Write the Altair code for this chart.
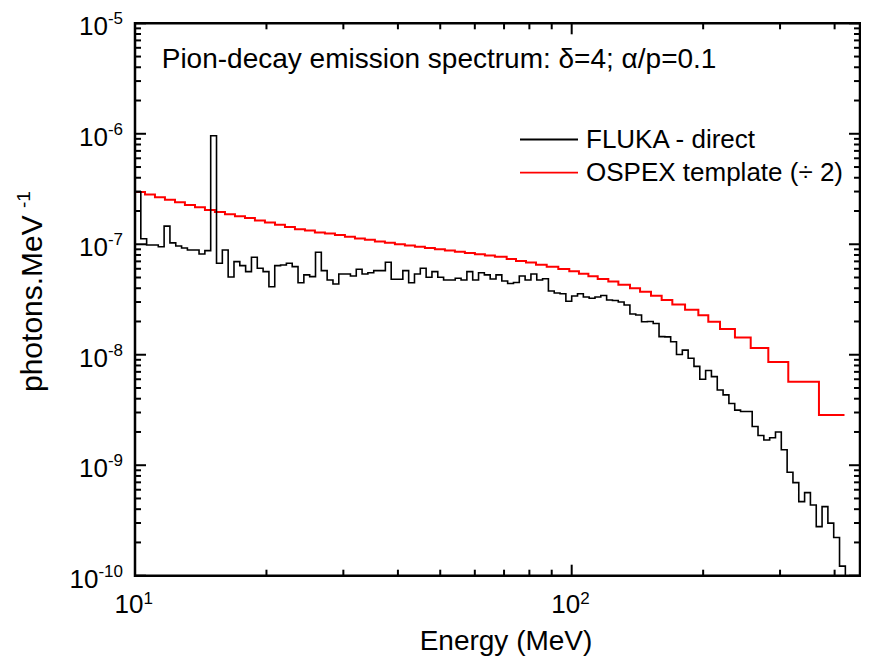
import altair as alt
import numpy as np
import pandas as pd

FONT = "Liberation Sans"
W, H = 725, 552.4
X_MIN, X_MAX = 10, 457.3
Y_MIN, Y_MAX = 1e-10, 1e-5

# FLUKA - direct: histogram with 75 log bins per decade starting at 10 MeV
fluka_e_min = 10.0
fluka_bins_per_decade = 75
fluka_flux = [
    2.99e-7, 1.12e-7, 9.85e-8, 9.85e-8, 9.5e-8, 1.46e-7, 1.03e-7, 9.65e-8, 9.26e-8, 8.88e-8,
    8.88e-8, 8.17e-8, 8.75e-8, 9.6e-7, 6.73e-8, 8.88e-8, 5.06e-8, 6.96e-8, 6.40e-8, 5.65e-8,
    7.63e-8, 6.06e-8, 5.65e-8, 4.13e-8, 6.40e-8, 6.50e-8, 6.73e-8, 6.27e-8, 4.49e-8, 5.28e-8,
    5.09e-8, 8.47e-8, 5.77e-8, 4.75e-8, 4.37e-8, 5.38e-8, 5.38e-8, 5.16e-8, 5.94e-8, 5.38e-8,
    5.53e-8, 5.77e-8, 5.77e-8, 6.87e-8, 4.83e-8, 4.83e-8, 5.77e-8, 4.49e-8, 5.38e-8, 6.06e-8,
    5.03e-8, 5.65e-8, 5.03e-8, 4.75e-8, 4.75e-8, 4.92e-8, 4.75e-8, 5.65e-8, 4.75e-8, 5.53e-8,
    5.28e-8, 4.85e-8, 5.28e-8, 4.65e-8, 4.42e-8, 4.51e-8, 5.16e-8, 4.75e-8, 5.38e-8, 4.75e-8,
    4.88e-8, 3.78e-8, 3.62e-8, 3.57e-8, 3.05e-8, 3.40e-8, 3.57e-8, 3.33e-8, 3.25e-8, 3.33e-8,
    3.44e-8, 3.13e-8, 3.10e-8, 3.00e-8, 2.82e-8, 2.34e-8, 2.29e-8, 1.99e-8, 2.00e-8, 1.92e-8,
    1.46e-8, 1.45e-8, 1.31e-8, 1.006e-8, 1.10e-8, 9.30e-9, 7.84e-9, 6.00e-9, 7.21e-9, 6.34e-9,
    4.80e-9, 4.33e-9, 3.62e-9, 3.15e-9, 3.06e-9, 3.06e-9, 2.24e-9, 1.86e-9, 1.69e-9, 1.77e-9,
    2.00e-9, 1.38e-9, 8.64e-10, 6.96e-10, 4.68e-10, 5.65e-10, 4.37e-10, 2.78e-10, 4.22e-10, 2.99e-10,
    2.22e-10, 1.22e-10,
]

# OSPEX template (/2): step edges (MeV) and values
ospex_edges = [
    10.00, 10.54, 11.11, 11.71, 12.35, 13.01, 13.72, 14.46, 15.24, 16.07,
    16.94, 17.86, 18.82, 19.84, 20.92, 22.05, 23.24, 24.50, 25.82, 27.22,
    28.70, 30.25, 31.89, 33.61, 35.43, 37.35, 39.37, 41.50, 43.75, 46.12,
    48.61, 51.25, 54.02, 56.94, 60.03, 63.28, 66.70, 70.98, 74.55, 78.58,
    82.85, 87.66, 93.18, 98.74, 103.9, 109.2, 114.7, 121.3, 127.9, 136.0,
    143.4, 151.9, 160.7, 170.0, 181.8, 195.0, 205.5, 218.6, 236.5, 257.0,
    282.0, 313.3, 368.3, 421.4,
]
ospex_flux = [
    2.97e-7, 2.82e-7, 2.67e-7, 2.53e-7, 2.40e-7, 2.27e-7, 2.16e-7, 2.04e-7, 1.96e-7, 1.87e-7,
    1.79e-7, 1.73e-7, 1.64e-7, 1.57e-7, 1.50e-7, 1.43e-7, 1.37e-7, 1.33e-7, 1.28e-7, 1.25e-7,
    1.21e-7, 1.17e-7, 1.13e-7, 1.10e-7, 1.06e-7, 1.03e-7, 1.00e-7, 9.75e-8, 9.49e-8, 9.26e-8,
    9.01e-8, 8.79e-8, 8.57e-8, 8.34e-8, 8.14e-8, 7.92e-8, 7.72e-8, 7.36e-8, 7.06e-8, 6.82e-8,
    6.54e-8, 6.27e-8, 5.98e-8, 5.70e-8, 5.42e-8, 5.13e-8, 4.85e-8, 4.59e-8, 4.31e-8, 4.00e-8,
    3.71e-8, 3.42e-8, 3.13e-8, 2.85e-8, 2.55e-8, 2.28e-8, 1.99e-8, 1.71e-8, 1.43e-8, 1.15e-8,
    8.61e-9, 5.71e-9, 2.85e-9,
]

x_major = [10, 100]
x_minor = [20, 30, 40, 50, 60, 70, 80, 90, 200, 300, 400]
x_label_exp = ["1", "2"]
y_major = [1e-10, 1e-9, 1e-8, 1e-7, 1e-6, 1e-5]
y_minor = [m * 10.0 ** e for e in range(-10, -5) for m in range(2, 10)]
y_label_exp = ["-10", "-9", "-8", "-7", "-6", "-5"]

title_text = "Pion-decay emission spectrum: \u03b4=4; \u03b1/p=0.1"
legend_labels = ["FLUKA - direct", "OSPEX template (\u00f7 2)"]
legend_colors = ["#000000", "#ff0000"]

# ---- tables ----
edges = fluka_e_min * 10 ** (np.arange(len(fluka_flux) + 1) / fluka_bins_per_decade)
bdf = pd.DataFrame({
    "E": list(edges[:-1]) + [edges[-1], edges[-1]],
    "F": fluka_flux + [fluka_flux[-1], 1e-12],
})
bdf["i"] = range(len(bdf))

rdf = pd.DataFrame({
    "E": ospex_edges,
    "F": ospex_flux + [ospex_flux[-1]],
})
rdf["i"] = range(len(rdf))

xs = alt.Scale(type="log", domain=[X_MIN, X_MAX], nice=False)
ys = alt.Scale(type="log", domain=[Y_MIN, Y_MAX], nice=False)

one = pd.DataFrame({"a": [0]})

black = alt.Chart(bdf).mark_line(interpolate="step-after", color="black", strokeWidth=1.6, clip=True).encode(
    x=alt.X("E:Q", scale=xs, axis=None), y=alt.Y("F:Q", scale=ys, axis=None), order="i:Q")
red = alt.Chart(rdf).mark_line(interpolate="step-after", color="#ff0000", strokeWidth=2, clip=True).encode(
    x=alt.X("E:Q", scale=xs, axis=None), y=alt.Y("F:Q", scale=ys, axis=None), order="i:Q")

frame = alt.Chart(one).mark_rect(fillOpacity=0, stroke="black", strokeWidth=2.5).encode(
    x=alt.value(0), x2=alt.value(W), y=alt.value(0), y2=alt.value(H))

TICK_W = 2
MAJ, MIN = 11, 6


def yticks(vals, length):
    d = pd.DataFrame({"v": vals})
    left = alt.Chart(d).mark_rule(color="black", strokeWidth=TICK_W).encode(
        y=alt.Y("v:Q", scale=ys, axis=None), x=alt.value(0), x2=alt.value(length))
    right = alt.Chart(d).mark_rule(color="black", strokeWidth=TICK_W).encode(
        y=alt.Y("v:Q", scale=ys, axis=None), x=alt.value(W - length), x2=alt.value(W))
    return [left, right]


def xticks(vals, length):
    d = pd.DataFrame({"v": vals})
    bottom = alt.Chart(d).mark_rule(color="black", strokeWidth=TICK_W).encode(
        x=alt.X("v:Q", scale=xs, axis=None), y=alt.value(H), y2=alt.value(H - length))
    top = alt.Chart(d).mark_rule(color="black", strokeWidth=TICK_W).encode(
        x=alt.X("v:Q", scale=xs, axis=None), y=alt.value(0), y2=alt.value(length))
    return [bottom, top]


ticks = yticks(y_major, MAJ) + yticks(y_minor, MIN) + xticks(x_major, MAJ) + xticks(x_minor, MIN)

# tick labels
ylab = pd.DataFrame({"v": y_major, "e": y_label_exp})
ylab_short = ylab[ylab["e"].str.len() == 2]
ylab_long = ylab[ylab["e"].str.len() == 3]
BASE_FS, EXP_FS = 26, 17
ylabels = [
    alt.Chart(ylab_short).mark_text(text="10", align="right", baseline="alphabetic", dy=12,
                                    fontSize=BASE_FS, font=FONT).encode(
        y=alt.Y("v:Q", scale=ys, axis=None), x=alt.value(-27.1)),
    alt.Chart(ylab_long).mark_text(text="10", align="right", baseline="alphabetic", dy=12,
                                   fontSize=BASE_FS, font=FONT).encode(
        y=alt.Y("v:Q", scale=ys, axis=None), x=alt.value(-36.6)),
    alt.Chart(ylab).mark_text(align="right", baseline="alphabetic", dy=1,
                              fontSize=EXP_FS, font=FONT).encode(
        y=alt.Y("v:Q", scale=ys, axis=None), x=alt.value(-12), text="e:N"),
]
xlab = pd.DataFrame({"v": x_major, "e": x_label_exp})
xlabels = [
    alt.Chart(xlab).mark_text(text="10", align="right", baseline="alphabetic", dx=8.5,
                              fontSize=BASE_FS, font=FONT).encode(
        x=alt.X("v:Q", scale=xs, axis=None), y=alt.value(H + 37.3)),
    alt.Chart(xlab).mark_text(align="left", baseline="alphabetic", dx=8.5,
                              fontSize=EXP_FS, font=FONT).encode(
        x=alt.X("v:Q", scale=xs, axis=None), y=alt.value(H + 28.3), text="e:N"),
]

# axis titles
TITLE_FS = 28
xtitle = alt.Chart(one).mark_text(text="Energy (MeV)", align="center", baseline="alphabetic",
                                  fontSize=TITLE_FS, font=FONT).encode(
    x=alt.value(371), y=alt.value(H + 74.5))
ytitle = [
    alt.Chart(one).mark_text(text="photons.MeV", align="left", baseline="alphabetic", angle=270,
                             fontSize=30, font=FONT).encode(x=alt.value(-93), y=alt.value(368.7)),
    alt.Chart(one).mark_text(text="-1", align="left", baseline="alphabetic", angle=270,
                             fontSize=19, font=FONT).encode(x=alt.value(-105), y=alt.value(184.7)),
]

title = alt.Chart(one).mark_text(text=title_text, align="left", baseline="alphabetic",
                                 fontSize=28, font=FONT).encode(x=alt.value(26.7), y=alt.value(45))

legend = []
for k, (lab, col) in enumerate(zip(legend_labels, legend_colors)):
    ly = 116.2 + k * 33.2
    legend.append(alt.Chart(one).mark_rule(color=col, strokeWidth=1.8).encode(
        x=alt.value(385), x2=alt.value(443), y=alt.value(ly)))
    legend.append(alt.Chart(one).mark_text(text=lab, align="left", baseline="alphabetic",
                                           fontSize=26, font=FONT).encode(
        x=alt.value(451), y=alt.value(ly + 8.6)))

chart = alt.layer(red, black, frame, *ticks, *ylabels, *xlabels, xtitle, *ytitle, title, *legend).properties(
    width=W, height=H,
    autosize=alt.AutoSizeParams(type="none"),
    padding={"left": 127, "top": 15.3, "right": 1, "bottom": 80.3},
).configure_view(strokeWidth=0)

chart.save("out.html", embed_options={"renderer": "svg", "actions": False})
